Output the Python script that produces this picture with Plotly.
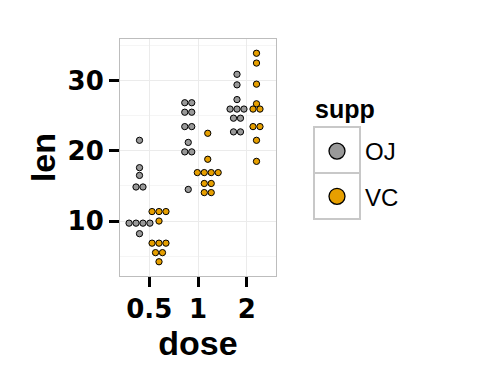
import plotly.graph_objects as go

# ToothGrowth data (len by supp and dose)
doses = ["0.5", "1", "2"]
supps = ["OJ", "VC"]
oj_05 = [15.2, 21.5, 17.6, 9.7, 14.5, 10.0, 8.2, 9.4, 16.5, 9.7]
oj_1 = [19.7, 23.3, 23.6, 26.4, 20.0, 25.2, 25.8, 21.2, 14.5, 27.3]
oj_2 = [25.5, 26.4, 22.4, 24.5, 24.8, 30.9, 26.4, 27.3, 29.4, 23.0]
vc_05 = [4.2, 11.5, 7.3, 5.8, 6.4, 10.0, 11.2, 11.2, 5.2, 7.0]
vc_1 = [16.5, 16.5, 15.2, 17.3, 22.5, 17.3, 13.6, 14.5, 18.8, 15.5]
vc_2 = [23.6, 18.5, 33.9, 25.5, 26.4, 32.5, 26.7, 21.5, 23.3, 29.5]
y_ticks = [10, 20, 30]

data = {"OJ": [oj_05, oj_1, oj_2], "VC": [vc_05, vc_1, vc_2]}
colors = {"OJ": "#999999", "VC": "#E69F00"}

all_vals = oj_05 + oj_1 + oj_2 + vc_05 + vc_1 + vc_2
vmin, vmax = min(all_vals), max(all_vals)
bw = (vmax - vmin) / 30.0

# y range (ggplot-like expansion)
lo, hi = vmin - bw / 2, vmax + bw / 2
pad = (hi - lo) * 0.05
y_range = [lo - pad, hi + pad]
x_range = [0.4, 3.6]

W, H = 480, 384
OFF = 8  # page body margin
# panel in screen px
P_L, P_R, P_T, P_B = 120, 276, 39, 276
ml, mr = P_L - OFF, W - (P_R - OFF)
mt, mb = P_T - OFF, H - (P_B - OFF)
pw, ph = P_R - P_L, P_B - P_T
px_per_y = ph / (y_range[1] - y_range[0])
px_per_x = pw / (x_range[1] - x_range[0])
dx = bw * px_per_y / px_per_x
dodge = {"OJ": -0.2, "VC": 0.2}


def dotdensity(vals):
    v = sorted(vals)
    out = []
    i = 0
    while i < len(v):
        start = v[i]
        grp = []
        while i < len(v) and v[i] < start + bw - 1e-9:
            grp.append(v[i])
            i += 1
        out.append(((grp[0] + grp[-1]) / 2.0, len(grp)))
    return out


fig = go.Figure()
for s in supps:
    xs, ys = [], []
    for di, vals in enumerate(data[s]):
        base = di + 1 + dodge[s]
        for center, n in dotdensity(vals):
            for k in range(n):
                xs.append(base + (k - (n - 1) / 2.0) * dx)
                ys.append(center)
    fig.add_trace(go.Scatter(
        x=xs, y=ys, mode="markers", showlegend=False, name=s,
        marker=dict(size=6.3, color=colors[s], line=dict(color="black", width=1)),
        hoverinfo="skip"))
    # legend entry
    fig.add_trace(go.Scatter(
        x=[None], y=[None], mode="markers", name=s, legendgroup=s,
        marker=dict(size=16, color=colors[s], line=dict(color="black", width=1.3))))

font = "Liberation Sans, Arial, sans-serif"
tick_font = "DejaVu Sans, Liberation Sans, sans-serif"


def px2x(p):
    return (p - P_L) / pw


def px2y(p):
    return (P_B - p) / ph


box_col = "#c8c8c8"
for top, bot in [(127, 173), (173, 219)]:
    fig.add_shape(type="rect", xref="paper", yref="paper",
                  x0=px2x(314), x1=px2x(360), y0=px2y(bot), y1=px2y(top),
                  line=dict(color=box_col, width=2), fillcolor="rgba(0,0,0,0)")

fig.add_annotation(text="<b>supp</b>", xref="paper", yref="paper",
                   x=px2x(313), y=px2y(109), xanchor="left", yanchor="middle",
                   showarrow=False, font=dict(size=25, family=font, color="black"))

fig.update_layout(
    width=W, height=H,
    margin=dict(l=ml, r=mr, t=mt, b=mb, autoexpand=False),
    paper_bgcolor="white", plot_bgcolor="white",
    font=dict(family=font, color="black"),
    legend=dict(
        x=px2x(309), y=px2y(129), xanchor="left", yanchor="top",
        font=dict(size=24, family=font),
        traceorder="grouped", tracegroupgap=11, itemwidth=46,
        itemsizing="trace", bgcolor="rgba(0,0,0,0)"),
    xaxis=dict(
        range=x_range, tickmode="array", tickvals=[1, 2, 3], ticktext=doses,
        showgrid=True, gridcolor="#ebebeb", gridwidth=1,
        showline=True, mirror=True, linecolor="#bdbdbd", linewidth=1,
        ticks="outside", ticklen=10, tickwidth=2.5, tickcolor="black",
        tickfont=dict(size=26, family=tick_font, weight="bold"),
        title=dict(text="<b>dose</b>", font=dict(size=34, family=font), standoff=0),
        zeroline=False, fixedrange=True),
    yaxis=dict(
        range=y_range, tickmode="array", tickvals=y_ticks,
        showgrid=True, gridcolor="#ebebeb", gridwidth=1,
        minor=dict(dtick=5, tick0=0, showgrid=True, gridcolor="#f5f5f5", gridwidth=1, ticks=""),
        showline=True, mirror=True, linecolor="#bdbdbd", linewidth=1,
        ticks="outside", ticklen=10, tickwidth=2.5, tickcolor="black",
        tickfont=dict(size=26, family=tick_font, weight="bold"),
        title=dict(text="<b>len</b>", font=dict(size=34, family=font), standoff=1),
        zeroline=False, fixedrange=True),
)

fig.write_html("out.html")
